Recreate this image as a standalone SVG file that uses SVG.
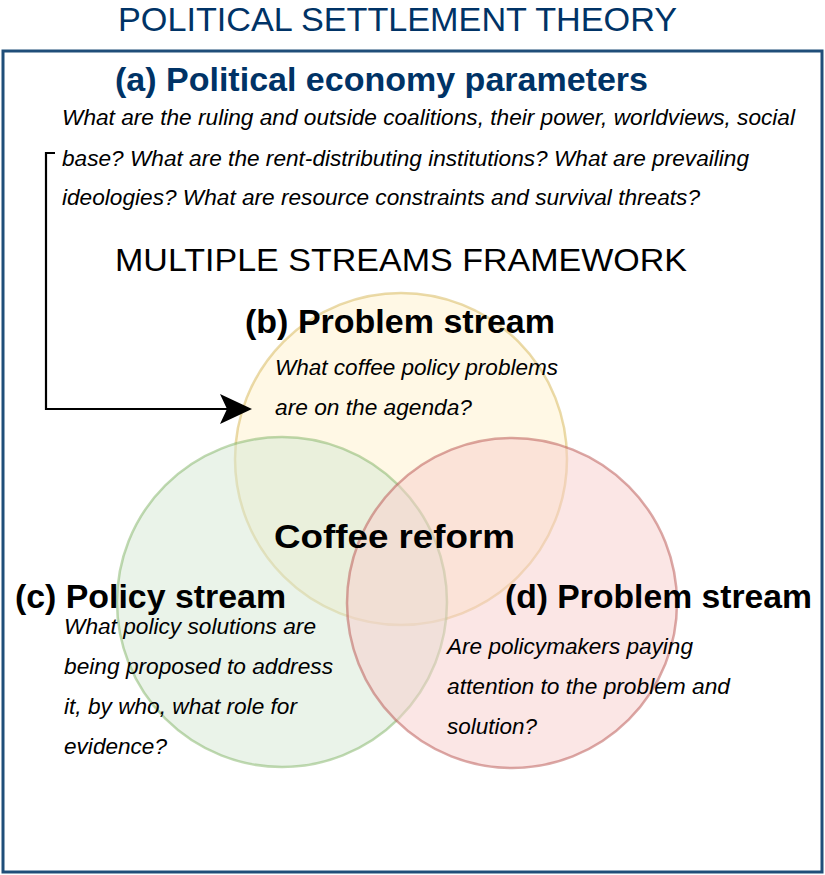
<svg xmlns="http://www.w3.org/2000/svg" width="825" height="875" viewBox="0 0 825 875">
  <style>
    text { font-family: "Liberation Sans", Arial, sans-serif; }
    .navy { fill: #003366; }
    .title { font-size: 33px; }
    .head { font-size: 33px; font-weight: bold; fill: #000; }
    .q { font-size: 22px; font-style: italic; fill: #000; }
    .msf { font-size: 32px; fill: #000; }
    .venn { stroke-width: 2.5; }
  </style>
  <defs>
    <marker id="arrow" viewBox="0 0 32 30" refX="30" refY="15" markerWidth="32" markerHeight="30" markerUnits="userSpaceOnUse" orient="auto">
      <path d="M0,0 L32,15 L0,30 L7,15 Z" fill="#000"/>
    </marker>
  </defs>

  <!-- outer frame: political settlement theory -->
  <rect x="3" y="51" width="819" height="821" fill="#fff" stroke="#1f4e79" stroke-width="3"/>
  <text class="navy title" x="118" y="31" textLength="559" lengthAdjust="spacingAndGlyphs">POLITICAL SETTLEMENT THEORY</text>

  <g id="node-a">
    <text class="navy" x="115" y="91" font-size="33" font-weight="bold" textLength="533" lengthAdjust="spacingAndGlyphs">(a) Political economy parameters</text>
    <text class="q" x="62" y="125" textLength="733" lengthAdjust="spacingAndGlyphs">What are the ruling and outside coalitions, their power, worldviews, social</text>
    <text class="q" x="62" y="166" textLength="687" lengthAdjust="spacingAndGlyphs">base? What are the rent-distributing institutions? What are prevailing</text>
    <text class="q" x="62" y="205" textLength="638" lengthAdjust="spacingAndGlyphs">ideologies? What are resource constraints and survival threats?</text>
  </g>

  <text class="msf" x="115" y="271" textLength="572" lengthAdjust="spacingAndGlyphs">MULTIPLE STREAMS FRAMEWORK</text>

  <!-- Venn circles -->
  <g id="node-b">
    <circle class="venn" cx="401" cy="459" r="166" fill="#fff2cc" fill-opacity="0.5" stroke="#d6b656" stroke-opacity="0.5"/>
  </g>
  <g id="node-c">
    <circle class="venn" cx="282" cy="602" r="165" fill="#d5e8d4" fill-opacity="0.5" stroke="#82b366" stroke-opacity="0.5"/>
  </g>
  <g id="node-d">
    <circle class="venn" cx="512" cy="603" r="165" fill="#f8cecc" fill-opacity="0.5" stroke="#b85450" stroke-opacity="0.5"/>
  </g>

  <g id="labels">
    <text class="head" x="245" y="333" textLength="310" lengthAdjust="spacingAndGlyphs">(b) Problem stream</text>
    <text class="q" x="275" y="375" textLength="283" lengthAdjust="spacingAndGlyphs">What coffee policy problems</text>
    <text class="q" x="275" y="415" textLength="197" lengthAdjust="spacingAndGlyphs">are on the agenda?</text>

    <text class="head" x="274" y="548" font-size="36" textLength="241" lengthAdjust="spacingAndGlyphs">Coffee reform</text>

    <text class="head" x="15" y="608" textLength="271" lengthAdjust="spacingAndGlyphs">(c) Policy stream</text>
    <text class="q" x="64" y="634" textLength="252" lengthAdjust="spacingAndGlyphs">What policy solutions are</text>
    <text class="q" x="64" y="674" textLength="269" lengthAdjust="spacingAndGlyphs">being proposed to address</text>
    <text class="q" x="64" y="714" textLength="233" lengthAdjust="spacingAndGlyphs">it, by who, what role for</text>
    <text class="q" x="64" y="754" textLength="103" lengthAdjust="spacingAndGlyphs">evidence?</text>

    <text class="head" x="505" y="608" textLength="307" lengthAdjust="spacingAndGlyphs">(d) Problem stream</text>
    <text class="q" x="447" y="654" textLength="246" lengthAdjust="spacingAndGlyphs">Are policymakers paying</text>
    <text class="q" x="447" y="694" textLength="283" lengthAdjust="spacingAndGlyphs">attention to the problem and</text>
    <text class="q" x="447" y="734" textLength="90" lengthAdjust="spacingAndGlyphs">solution?</text>
  </g>

  <g id="connectors">
    <path d="M55,153 L46,153 L46,409 L250,409" fill="none" stroke="#000" stroke-width="2.2" marker-end="url(#arrow)"/>
  </g>
</svg>
